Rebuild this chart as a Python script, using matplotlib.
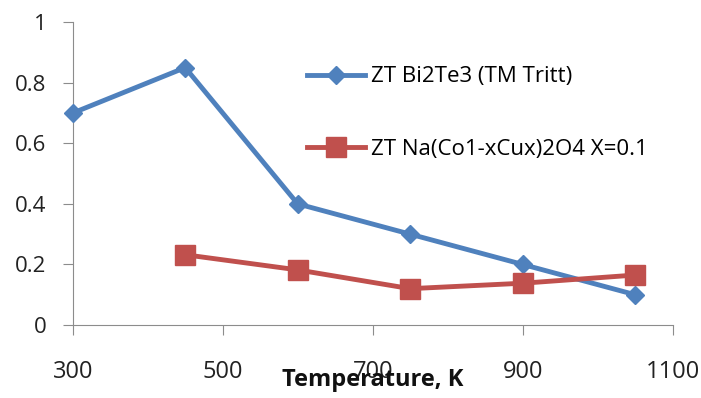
import matplotlib
matplotlib.use("Agg")
import matplotlib.pyplot as plt

temps_bi = [300, 450, 600, 750, 900, 1050]
zt_bi = [0.70, 0.85, 0.40, 0.30, 0.20, 0.10]
temps_na = [450, 600, 750, 900, 1050]
zt_na = [0.232, 0.182, 0.12, 0.138, 0.165]
label_bi = "ZT Bi2Te3 (TM Tritt)"
label_na = "ZT Na(Co1-xCux)2O4 X=0.1"
xticks = [300, 500, 700, 900, 1100]
yticks = [0, 0.2, 0.4, 0.6, 0.8, 1.0]
ytick_labels = ["0", "0.2", "0.4", "0.6", "0.8", "1"]

plt.rcParams['font.family'] = ['Open Sans', 'DejaVu Sans']
W, H = 701, 398
fig = plt.figure(figsize=(W / 100, H / 100), dpi=100)
ax = fig.add_axes([72.7 / W, 1 - 325 / H, 600 / W, 302.8 / H])

blue = '#4F81BD'
red = '#C0504D'
ax.plot(temps_bi, zt_bi, color=blue, lw=3.5, marker='D', ms=9.5, label=label_bi, clip_on=False, zorder=3)
ax.plot(temps_na, zt_na, color=red, lw=3.5, marker='s', ms=14, label=label_na, clip_on=False, zorder=3)

ax.set_xlim(300, 1100)
ax.set_ylim(0, 1)
ax.set_xticks(xticks)
ax.set_yticks(yticks)
ax.set_yticklabels(ytick_labels)
for s in ['top', 'right']:
    ax.spines[s].set_visible(False)
for s in ['left', 'bottom']:
    ax.spines[s].set_color('#8c8c8c')
ax.tick_params(axis='both', colors='#8c8c8c', labelcolor='#222222', length=7)
ax.tick_params(axis='y', pad=12, labelsize=16)
ax.tick_params(axis='x', pad=18, labelsize=17)

ax.set_xlabel('Temperature, K', fontsize=17, fontweight='bold', labelpad=-11, color='#111111')

leg = ax.legend(loc='center left', bbox_to_anchor=(307 / W, 1 - 113 / H), bbox_transform=fig.transFigure,
                frameon=False, fontsize=16, borderpad=0, borderaxespad=0,
                labelspacing=2.3, handlelength=2.6, handletextpad=0.3)

fig.savefig('out.png', dpi=100)
